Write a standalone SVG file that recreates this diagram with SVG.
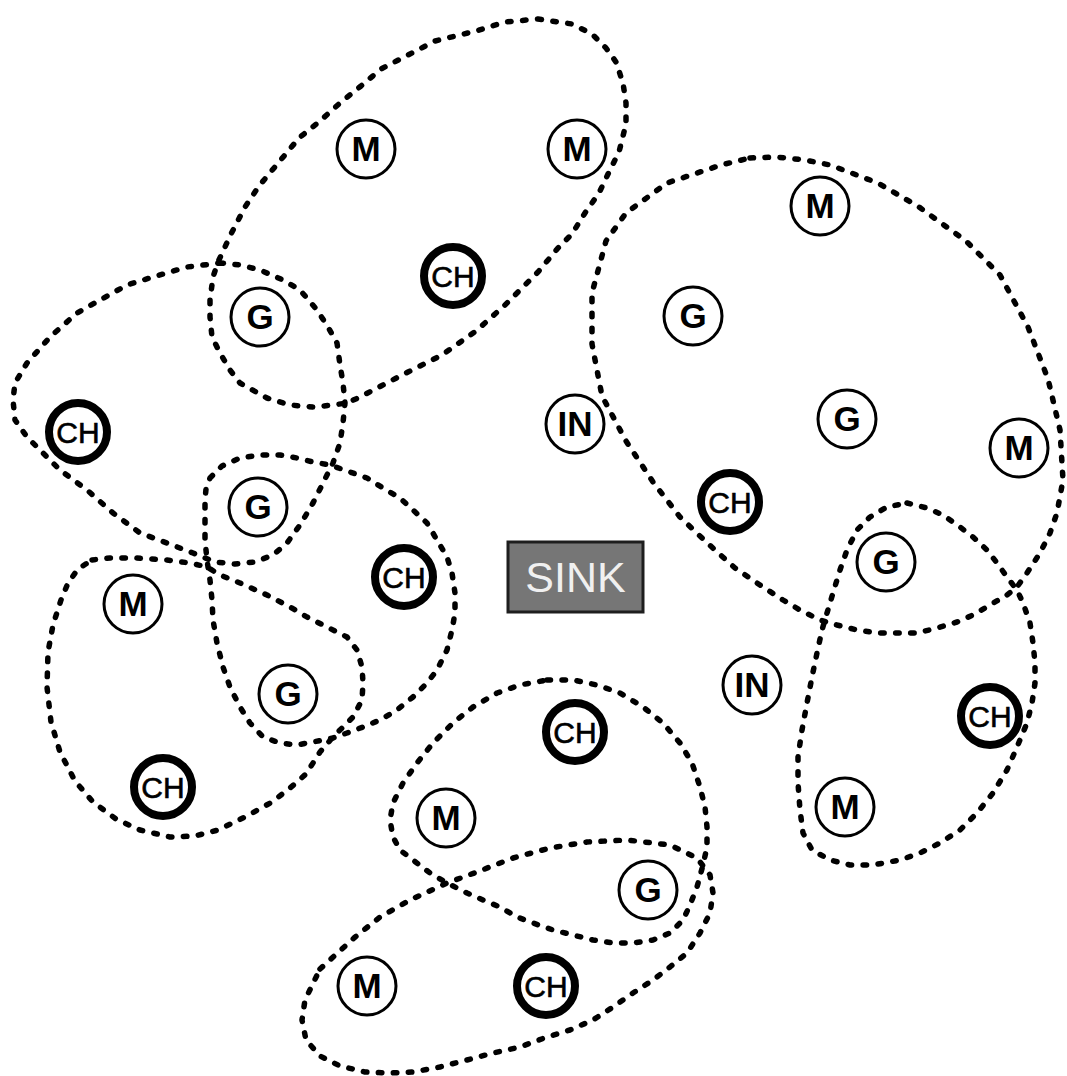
<svg xmlns="http://www.w3.org/2000/svg" width="1067" height="1076" viewBox="0 0 1067 1076">
<style>
.reg{fill:none;stroke:#000;stroke-width:5.5;stroke-dasharray:3.5 11.5;stroke-linecap:round;stroke-linejoin:round}
.nd{fill:#fff;stroke:#000;stroke-width:3}
.ch{fill:#fff;stroke:#000;stroke-width:8}
.lb{font-family:"Liberation Sans",Arial,sans-serif;font-size:35px;font-weight:bold;text-anchor:middle;fill:#000}
.lc{font-family:"Liberation Sans",Arial,sans-serif;font-size:30px;text-anchor:middle;fill:#000;stroke:#000;stroke-width:0.6}
.sk{font-family:"Liberation Sans",Arial,sans-serif;font-size:43px;text-anchor:middle;fill:#f0f0f0}
</style>
<rect width="1067" height="1076" fill="#fff"/>
<g id="regions">
<path id="r1" class="reg" d="M538,19 L572,24 L592,34 L606,48 L616,62 L623,83 L626,103 L626,124 L619,152 L609,172 L599,193 L585,213 L572,234 L558,248 L538,272 L517,293 L504,306 L476,331 L442,355 L408,372 L381,386 L360,397 L347,403 L333,405 L313,407 L290,405 L267,398 L240,383 L230,370 L220,353 L212,337 L210,317 L210,300 L213,277 L218,262 L231,234 L245,207 L259,186 L279,162 L299,138 L320,121 L340,103 L361,86 L381,69 L408,55 L435,41 L476,31 L505,22 Z"/>
<path id="r2" class="reg" d="M220,263 L240,265 L260,270 L283,280 L300,290 L317,310 L328,327 L337,343 L340,365 L343,383 L345,403 L343,423 L340,443 L333,463 L323,483 L313,503 L300,525 L287,543 L273,555 L255,562 L235,564 L215,562 L193,553 L167,543 L140,533 L113,513 L87,490 L60,470 L40,450 L27,437 L15,420 L13,400 L15,383 L27,363 L50,337 L77,313 L100,300 L127,285 L153,277 L187,267 Z"/>
<path id="r3" class="reg" d="M210,478 L222,466 L240,458 L260,455 L280,455 L297,458 L313,462 L330,465 L350,472 L367,478 L383,488 L400,498 L413,510 L427,523 L437,540 L447,557 L452,573 L455,593 L455,613 L452,630 L447,650 L437,670 L427,683 L413,697 L397,710 L380,720 L363,727 L347,733 L333,738 L313,742 L297,745 L280,743 L263,737 L250,723 L240,707 L230,687 L223,667 L217,643 L213,620 L212,600 L210,580 L207,560 L205,540 L205,520 L205,500 L206,489 Z"/>
<path id="r4" class="reg" d="M92,560 L110,558 L136,558 L167,560 L190,563 L207,567 L220,575 L240,583 L267,595 L290,607 L307,617 L327,627 L347,637 L357,650 L362,667 L363,683 L362,700 L353,717 L343,727 L333,737 L320,752 L306,774 L290,788 L272,802 L245,817 L218,830 L195,836 L170,837 L140,830 L116,819 L93,802 L75,781 L60,752 L51,722 L47,687 L48,652 L53,625 L61,600 L68,583 L78,569 Z"/>
<path id="r5" class="reg" d="M750,158 L776,157 L805,160 L830,165 L878,183 L919,207 L966,241 L1000,275 L1028,327 L1048,379 L1060,430 L1063,480 L1057,513 L1050,533 L1040,553 L1027,573 L1017,587 L1007,595 L990,605 L973,615 L957,622 L937,628 L917,633 L897,633 L877,633 L857,630 L837,625 L820,620 L800,610 L783,600 L760,585 L735,568 L715,550 L701,537 L680,517 L653,482 L626,441 L602,396 L592,344 L592,293 L606,241 L626,213 L667,183 L721,165 Z"/>
<path id="r6" class="reg" d="M907,503 L927,508 L943,515 L960,527 L973,537 L987,550 L997,563 L1007,577 L1017,590 L1023,603 L1030,623 L1033,643 L1035,663 L1035,683 L1032,703 L1027,723 L1017,747 L1007,770 L993,793 L977,813 L960,830 L940,843 L920,853 L900,860 L873,865 L850,865 L830,860 L812,850 L803,833 L800,810 L798,783 L798,757 L802,730 L807,703 L812,677 L817,653 L822,630 L827,613 L833,593 L840,570 L847,550 L857,530 L870,517 L887,507 Z"/>
<path id="r7" class="reg" d="M547,680 L573,680 L597,685 L620,693 L643,707 L663,723 L680,743 L692,763 L700,787 L705,807 L707,827 L707,847 L703,865 L697,887 L690,905 L683,920 L670,933 L653,940 L633,943 L613,943 L593,940 L573,935 L553,930 L533,923 L517,917 L500,907 L483,900 L467,893 L447,883 L430,873 L413,860 L400,850 L393,837 L390,820 L393,803 L403,783 L417,763 L433,743 L453,723 L473,707 L497,693 L520,685 Z"/>
<path id="r8" class="reg" d="M320,969 L354,938 L380,917 L410,900 L447,883 L477,872 L513,858 L550,848 L587,842 L627,840 L670,845 L697,858 L710,875 L713,893 L710,913 L700,933 L687,953 L670,967 L653,980 L633,993 L613,1007 L593,1020 L570,1030 L547,1037 L520,1047 L493,1053 L467,1060 L440,1067 L413,1072 L390,1073 L365,1072 L340,1066 L320,1056 L306,1040 L302,1020 L305,1000 Z"/>
</g>
<g id="sink">
<rect x="508" y="542" width="135" height="70" fill="#767676" stroke="#1e1e1e" stroke-width="3"/>
<text class="sk" x="575.5" y="592">SINK</text>
</g>
<g id="n1"><circle class="nd" cx="366" cy="149" r="29"/><text class="lb" x="366" y="161">M</text></g>
<g id="n2"><circle class="nd" cx="577" cy="149" r="29"/><text class="lb" x="577" y="161">M</text></g>
<g id="n3"><circle class="ch" cx="453" cy="276" r="29"/><text class="lc" x="453" y="287">CH</text></g>
<g id="n4"><circle class="nd" cx="260" cy="317" r="29"/><text class="lb" x="260" y="329">G</text></g>
<g id="n5"><circle class="ch" cx="78" cy="432" r="29"/><text class="lc" x="78" y="443">CH</text></g>
<g id="n6"><circle class="nd" cx="575" cy="424" r="29"/><text class="lb" x="575" y="436">IN</text></g>
<g id="n7"><circle class="nd" cx="693" cy="316" r="29"/><text class="lb" x="693" y="328">G</text></g>
<g id="n8"><circle class="nd" cx="820" cy="206" r="29"/><text class="lb" x="820" y="218">M</text></g>
<g id="n9"><circle class="nd" cx="847" cy="419" r="29"/><text class="lb" x="847" y="431">G</text></g>
<g id="n10"><circle class="nd" cx="1019" cy="448" r="29"/><text class="lb" x="1019" y="460">M</text></g>
<g id="n11"><circle class="ch" cx="730" cy="502" r="29"/><text class="lc" x="730" y="513">CH</text></g>
<g id="n12"><circle class="nd" cx="258" cy="507" r="29"/><text class="lb" x="258" y="519">G</text></g>
<g id="n13"><circle class="ch" cx="404" cy="577" r="29"/><text class="lc" x="404" y="588">CH</text></g>
<g id="n14"><circle class="nd" cx="886" cy="562" r="29"/><text class="lb" x="886" y="574">G</text></g>
<g id="n15"><circle class="nd" cx="133" cy="604" r="29"/><text class="lb" x="133" y="616">M</text></g>
<g id="n16"><circle class="nd" cx="288" cy="694" r="29"/><text class="lb" x="288" y="706">G</text></g>
<g id="n17"><circle class="nd" cx="752" cy="685" r="29"/><text class="lb" x="752" y="697">IN</text></g>
<g id="n18"><circle class="ch" cx="990" cy="716" r="29"/><text class="lc" x="990" y="727">CH</text></g>
<g id="n19"><circle class="ch" cx="163" cy="787" r="29"/><text class="lc" x="163" y="798">CH</text></g>
<g id="n20"><circle class="ch" cx="575" cy="732" r="29"/><text class="lc" x="575" y="743">CH</text></g>
<g id="n21"><circle class="nd" cx="446" cy="818" r="29"/><text class="lb" x="446" y="830">M</text></g>
<g id="n22"><circle class="nd" cx="845" cy="807" r="29"/><text class="lb" x="845" y="819">M</text></g>
<g id="n23"><circle class="nd" cx="648" cy="890" r="29"/><text class="lb" x="648" y="902">G</text></g>
<g id="n24"><circle class="nd" cx="367" cy="986" r="29"/><text class="lb" x="367" y="998">M</text></g>
<g id="n25"><circle class="ch" cx="546" cy="986" r="29"/><text class="lc" x="546" y="997">CH</text></g>
</svg>
